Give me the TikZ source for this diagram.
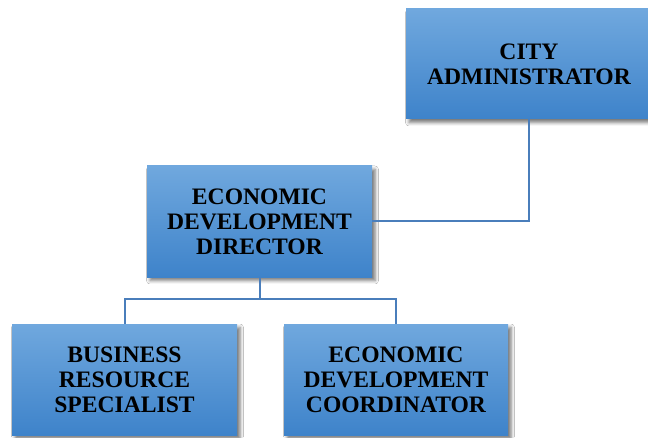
\documentclass[tikz,border=0pt]{standalone}
\usepackage{fontspec}
\setmainfont{Liberation Serif}
\usetikzlibrary{shadows.blur,positioning}
\definecolor{boxtop}{RGB}{112,168,222}
\definecolor{boxbot}{RGB}{62,131,202}
\definecolor{linkc}{RGB}{74,126,187}
\tikzset{
  orgbox/.style={rectangle, draw=none, top color=boxtop, bottom color=boxbot,
    align=center, inner sep=0pt, font=\bfseries\fontsize{23.6}{25}\selectfont,
    text=black,
    blur shadow={shadow xshift=3pt, shadow yshift=-3.5pt, shadow blur radius=3.5pt, shadow opacity=55}},
  link/.style={draw=linkc, line width=2pt}
}
\begin{document}
\begin{tikzpicture}[x=1pt,y=1pt]
\clip (0,0) rectangle (648,437);
\fill[white] (0,0) rectangle (648,437);
\node[orgbox, minimum width=246, minimum height=110] (ca) at (529,373) {CITY\\ADMINISTRATOR};
\node[orgbox, minimum width=225, minimum height=111] (dir) at (259.5,215.5) {ECONOMIC\\DEVELOPMENT\\DIRECTOR};
\node[orgbox, minimum width=225, minimum height=111] (brs) at (124.5,57.5) {BUSINESS\\RESOURCE\\SPECIALIST};
\node[orgbox, minimum width=224, minimum height=111] (edc) at (396,57.5) {ECONOMIC\\DEVELOPMENT\\COORDINATOR};
\draw[link] (dir.east) -| (ca.south);
\coordinate (j) at ([yshift=-22pt]dir.south);
\draw[link] (dir.south) -- (j);
\draw[link] (brs.north) |- (j) -| (edc.north);
\end{tikzpicture}
\end{document}
